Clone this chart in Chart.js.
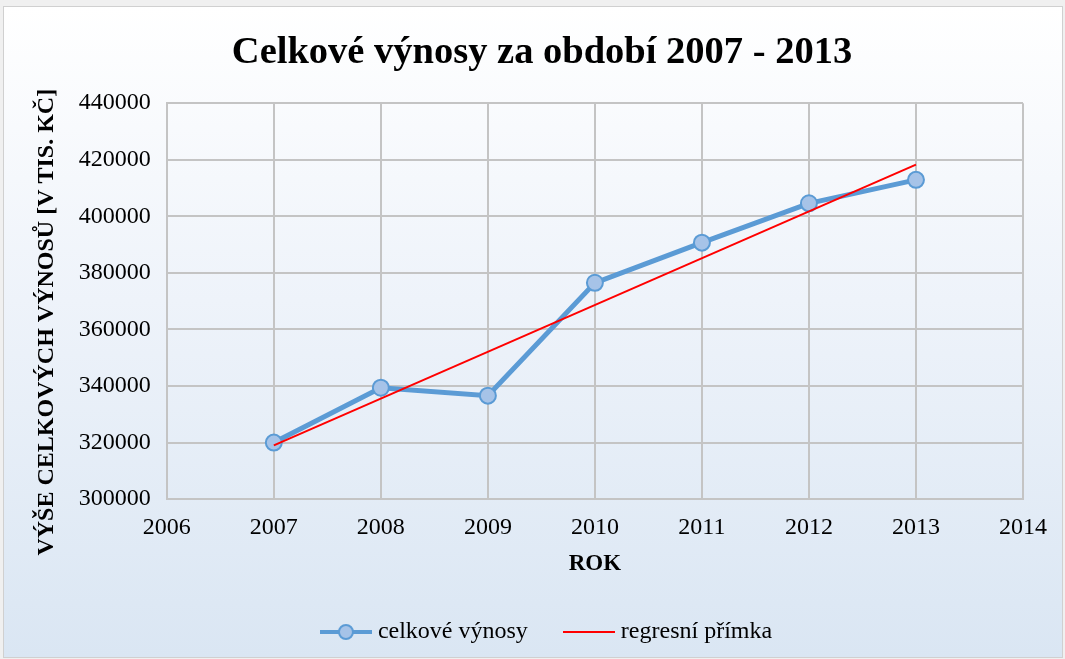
<!DOCTYPE html>
<html>
<head>
<meta charset="utf-8">
<script src="https://cdn.jsdelivr.net/npm/chart.js@4.4.1/dist/chart.umd.min.js"></script>
<style>
  html, body { margin: 0; padding: 0; background: #f0f0f0; }
  #wrap {
    position: absolute; left: 3px; top: 6px; width: 1058px; height: 650px;
    border: 1px solid #d0d0d0;
    background: linear-gradient(to bottom, #ffffff 0%, #eef3fa 45%, #dae6f3 100%);
  }
  canvas { display: block; }
</style>
</head>
<body>
<div id="wrap"><canvas id="chart" width="1058" height="650"></canvas></div>
<script>
const years = [2007, 2008, 2009, 2010, 2011, 2012, 2013];
const vynosy = [320000, 339400, 336600, 376500, 390700, 404600, 412900];
const regYears = [2007, 2013];
const regValues = [319000, 418300];

const FONT = "'Liberation Serif', 'Times New Roman', serif";
const BLUE = "#5b9bd5";
const POINT_FILL = "#a6c3e8";

function legendIcon(withMarker, color) {
  const c = document.createElement("canvas");
  c.width = 52; c.height = 20;
  const g = c.getContext("2d");
  g.strokeStyle = color;
  g.lineWidth = withMarker ? 4 : 2;
  g.beginPath(); g.moveTo(0, 10); g.lineTo(52, 10); g.stroke();
  if (withMarker) {
    g.beginPath(); g.arc(26, 10, 7, 0, Math.PI * 2);
    g.fillStyle = POINT_FILL; g.fill();
    g.lineWidth = 2; g.strokeStyle = color; g.stroke();
  }
  return c;
}

// title and legend sit a little right of centre in the original
const nudge = {
  id: "nudge",
  afterLayout(chart) {
    chart.legend.left += 25;
    chart.legend.top -= 3;
    chart.legend.bottom -= 3;
    chart.titleBlock.left += 11;
  },
};

const ctx = document.getElementById("chart").getContext("2d");
new Chart(ctx, {
  type: "line",
  data: {
    datasets: [
      {
        label: "celkové výnosy",
        data: years.map((y, i) => ({ x: y, y: vynosy[i] })),
        borderColor: BLUE,
        borderWidth: 5,
        pointRadius: 8,
        pointBackgroundColor: POINT_FILL,
        pointBorderColor: BLUE,
        pointBorderWidth: 2,
        tension: 0,
        order: 1,
      },
      {
        label: "regresní přímka",
        data: regYears.map((y, i) => ({ x: y, y: regValues[i] })),
        borderColor: "#ff0000",
        borderWidth: 2,
        pointRadius: 0,
        tension: 0,
        order: 0,
      },
    ],
  },
  plugins: [nudge],
  options: {
    responsive: false,
    animation: false,
    layout: { padding: { left: 24, right: 17, top: 16, bottom: 0 } },
    plugins: {
      title: {
        display: true,
        text: "Celkové výnosy za období 2007 - 2013",
        color: "#000",
        font: { family: FONT, size: 38.5, weight: "bold" },
        padding: { top: 7, bottom: 27 },
      },
      legend: {
        position: "bottom",
        labels: {
          color: "#000",
          font: { family: FONT, size: 24 },
          usePointStyle: true,
          pointStyleWidth: 40,
          padding: 41,
          generateLabels: (chart) => chart.data.datasets.map((ds, i) => ({
            text: ds.label,
            pointStyle: legendIcon(i === 0, ds.borderColor),
            fillStyle: "transparent",
            strokeStyle: "transparent",
            lineWidth: 0,
            datasetIndex: i,
          })),
        },
      },
      tooltip: { enabled: false },
    },
    scales: {
      x: {
        type: "linear",
        min: 2006,
        max: 2014,
        ticks: { stepSize: 1, color: "#000", font: { family: FONT, size: 24, lineHeight: 0.635 }, callback: v => String(v), padding: 15 },
        // invisible tick marks just add space above the labels
        grid: { color: "#c4c4c4", lineWidth: 2, drawTicks: true, tickLength: 6, tickColor: "transparent" },
        border: { color: "#c4c4c4", width: 2 },
        title: { display: true, text: "ROK", color: "#000", font: { family: FONT, size: 23, weight: "bold" }, padding: { top: 0 } },
      },
      y: {
        min: 300000,
        max: 440000,
        ticks: { stepSize: 20000, color: "#000", font: { family: FONT, size: 24 }, callback: v => String(v), padding: 16 },
        grid: { color: "#c4c4c4", lineWidth: 2, drawTicks: false },
        border: { color: "#c4c4c4", width: 2 },
        // trailing spaces push the visible text a bit lower, as in the original
        title: { display: true, text: "VÝŠE CELKOVÝCH VÝNOSŮ [V TIS. KČ]       ", color: "#000", font: { family: FONT, size: 24, weight: "bold" }, padding: { bottom: 2 } },
      },
    },
  },
});
</script>
</body>
</html>
